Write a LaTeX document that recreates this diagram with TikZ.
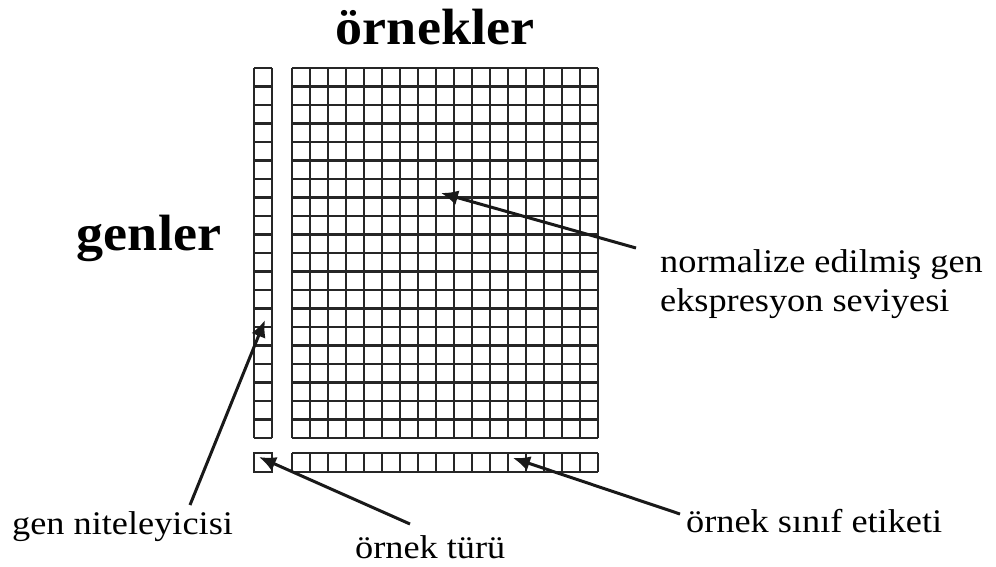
\documentclass[tikz,border=0pt]{standalone}
\usepackage{fontspec}
\setmainfont{Liberation Serif}
\newfontfamily\widefont[FakeStretch=1.1]{Liberation Serif}
\newfontfamily\widebold[FakeStretch=1.06]{Liberation Serif Bold}
\usetikzlibrary{arrows.meta}
\begin{document}
\begin{tikzpicture}[x=1pt,y=-1pt,
  gridline/.style={line width=2.3pt, draw=black!85},
  lbl/.style={font=\widefont\fontsize{33}{39}\selectfont, inner sep=0pt, anchor=west, align=left},
  ttl/.style={font=\widebold\fontsize{51}{56}\selectfont, inner sep=0pt},
  pointer/.style={line width=3pt, draw=black!90, -{Latex[length=17pt,width=15pt]}}]
\useasboundingbox (0,0) rectangle (996,566);
% left column (gene descriptors)
\foreach \i in {0,...,20} \draw[gridline] (254,{68+\i*18.5}) -- (272,{68+\i*18.5});
\foreach \j in {0,1} \draw[gridline] ({254+\j*18},68) -- ({254+\j*18},438);
% main matrix
\foreach \i in {0,...,20} \draw[gridline] (292,{68+\i*18.5}) -- (598,{68+\i*18.5});
\foreach \j in {0,...,17} \draw[gridline] ({292+\j*18},68) -- ({292+\j*18},438);
% bottom row
\draw[gridline] (254,453) rectangle (272,472);
\draw[gridline] (292,453) -- (598,453) (292,472) -- (598,472);
\foreach \j in {0,...,17} \draw[gridline] ({292+\j*18},453) -- ({292+\j*18},472);
% titles
\node[ttl] (ornekler) at (435,27) {örnekler};
\node[ttl] (genler) at (149,238) {genler};
% labels
\node[lbl] (norm) at (660,284) {normalize edilmiş gen\\ekspresyon seviyesi};
\node[lbl] (genit) at (12,527) {gen niteleyicisi};
\node[lbl] (tur) at (355,547) {örnek türü};
\node[lbl] (sinif) at (686,521) {örnek sınıf etiketi};
% arrow ends
\coordinate (t1) at (636,248); \coordinate (h1) at (441,193);
\coordinate (t2) at (190,505); \coordinate (h2) at (265,320);
\coordinate (t3) at (410,524); \coordinate (h3) at (259,457);
\coordinate (t4) at (680,514); \coordinate (h4) at (513,458);
\draw[pointer] (t1) -- (h1);
\draw[pointer] (t2) -- (h2);
\draw[pointer] (t3) -- (h3);
\draw[pointer] (t4) -- (h4);
\end{tikzpicture}
\end{document}
